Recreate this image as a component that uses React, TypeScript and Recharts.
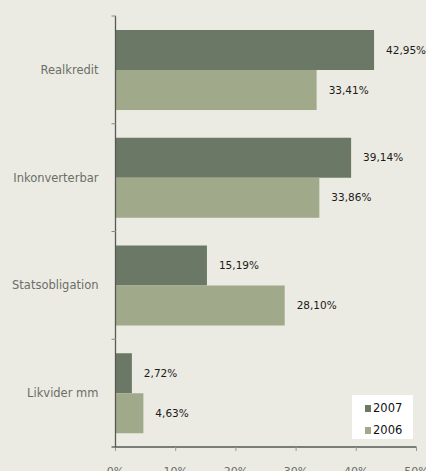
import React from 'react';
import { BarChart, Bar, XAxis, YAxis, LabelList } from 'recharts';

const categories = ['Realkredit', 'Inkonverterbar', 'Statsobligation', 'Likvider mm'];
const values2007 = [42.95, 39.14, 15.19, 2.72];
const values2006 = [33.41, 33.86, 28.1, 4.63];
const xTicks = [0, 10, 20, 30, 40, 50];
const seriesNames = ['2007', '2006'];

const data = categories.map((c, i) => ({ name: c, v2007: values2007[i], v2006: values2006[i] }));

const BG = '#ECEBE3';
const DARK = '#6B7866';
const LIGHT = '#A0A98A';
const FONT = 'DejaVu Sans, sans-serif';

const W = 426;
const H = 471;
const TOP = 16;
const BOTTOM_AXIS = 24;
const bandH = (H - TOP - BOTTOM_AXIS) / categories.length;

const fmt = (v: number) => v.toFixed(2).replace('.', ',') + '%';

const CatTick = (props: any) => {
  const { x, y, payload, index } = props;
  const isLast = index === categories.length - 1;
  return (
    <g>
      <line x1={x + 4} x2={x + 8.5} y1={y - bandH / 2} y2={y - bandH / 2} stroke="#8a8a85" strokeWidth={1} />
      {isLast && (
        <line x1={x + 4} x2={x + 8.5} y1={y + bandH / 2} y2={y + bandH / 2} stroke="#555a55" strokeWidth={1.3} />
      )}
      <text x={x - 9} y={y} textAnchor="end" dominantBaseline="central" fill="#6B6E68" fontSize={11.5} fontFamily={FONT}>
        {payload.value}
      </text>
    </g>
  );
};

const LegendBox = () => (
  <div style={{ position: 'absolute', left: 352, top: 395, background: '#FFFFFF', width: 61, height: 44, boxSizing: 'border-box', paddingLeft: 13, paddingTop: 4, fontFamily: FONT, fontSize: 11.5, color: '#111' }}>
    {seriesNames.map((n, i) => (
      <div key={n} style={{ display: 'flex', alignItems: 'center', height: 18, marginBottom: i === 0 ? 4 : 0 }}>
        <span style={{ display: 'inline-block', width: 6, height: 7, background: i === 0 ? DARK : LIGHT, marginRight: 2 }} />
        <span>{n}</span>
      </div>
    ))}
  </div>
);

export default function App() {
  return (
    <div style={{ position: 'absolute', left: 0, top: 0, width: W, height: H, background: BG, overflow: 'hidden' }}>
      <BarChart
        width={W}
        height={H}
        data={data}
        layout="vertical"
        margin={{ top: TOP, right: 9.5, left: 0, bottom: 0 }}
        barCategoryGap={14}
        barGap={0}
      >
        <XAxis
          type="number"
          domain={[0, 50]}
          ticks={xTicks}
          tickFormatter={(v) => v + '%'}
          axisLine={{ stroke: '#555a55', strokeWidth: 1.3 }}
          tickLine={{ stroke: '#9a9a95' }}
          tickSize={4}
          tickMargin={16}
          height={BOTTOM_AXIS}
          tick={{ fill: '#6B6E68', fontSize: 11, fontFamily: FONT }}
          interval={0}
        />
        <YAxis
          type="category"
          dataKey="name"
          width={115.5}
          axisLine={{ stroke: '#555a55', strokeWidth: 1.3 }}
          tickLine={false}
          tick={<CatTick />}
        />
        <Bar dataKey="v2007" name="2007" fill={DARK} isAnimationActive={false}>
          <LabelList dataKey="v2007" position="right" offset={12} formatter={(v: any) => fmt(v)} fill="#1a1a1a" fontSize={10.5} fontFamily={FONT} />
        </Bar>
        <Bar dataKey="v2006" name="2006" fill={LIGHT} isAnimationActive={false}>
          <LabelList dataKey="v2006" position="right" offset={12} formatter={(v: any) => fmt(v)} fill="#1a1a1a" fontSize={10.5} fontFamily={FONT} />
        </Bar>
      </BarChart>
      <LegendBox />
    </div>
  );
}
